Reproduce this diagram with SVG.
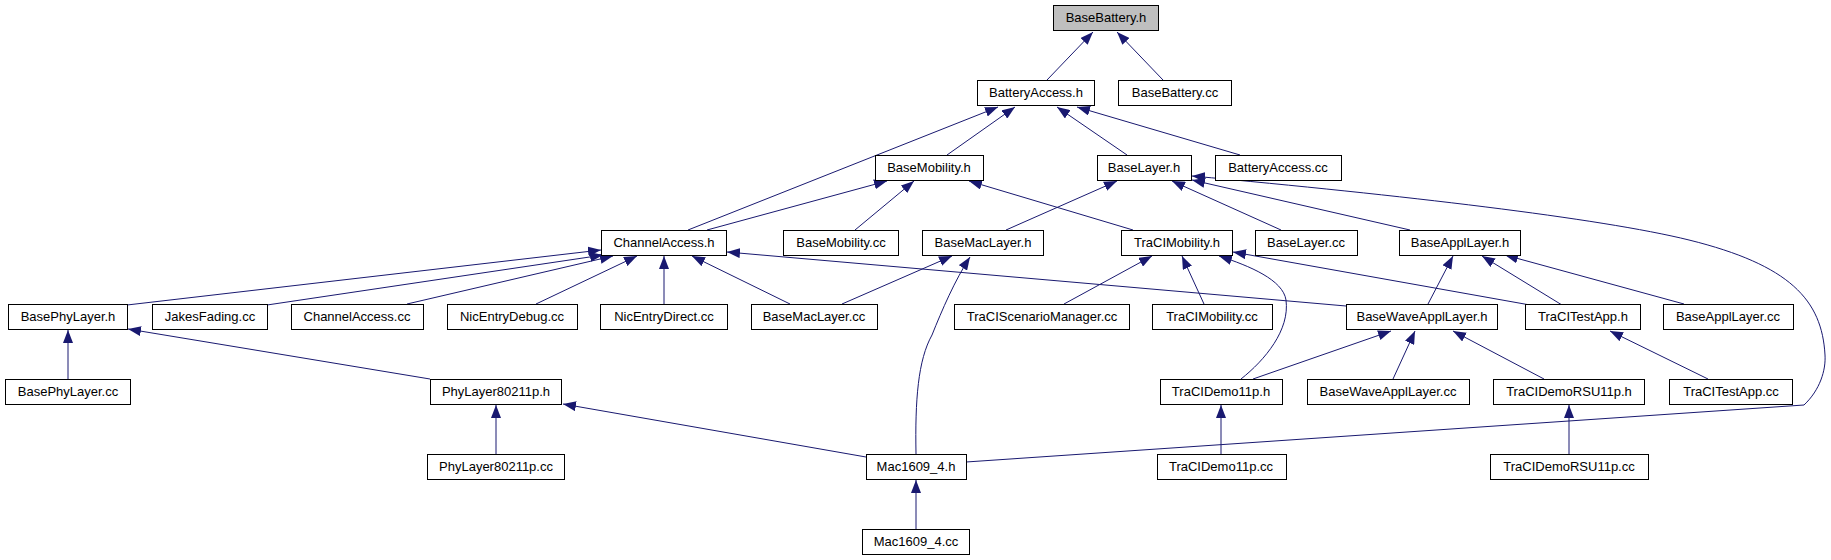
<svg xmlns="http://www.w3.org/2000/svg" width="1831" height="560" viewBox="0 0 1831 560">
<style>
.n rect{fill:#fff;stroke:#000;stroke-width:1}
.n text{font-family:"Liberation Sans",Arial,sans-serif;font-size:13px;text-anchor:middle;fill:#000}
#root rect{fill:#bfbfbf}
.e path{fill:none;stroke:#191970;stroke-width:1;marker-end:url(#a)}
</style>
<defs>
<marker id="a" markerUnits="userSpaceOnUse" markerWidth="14" markerHeight="10" refX="13" refY="5" orient="auto"><path d="M0,0 L13,5 L0,10 z" fill="#191970"/></marker>
</defs>
<rect width="1831" height="560" fill="#fff"/>
<g class="e" id="edges">
<path d="M1047,80 L1093,32"/>
<path d="M1163,80 L1117,32"/>
<path d="M688,230 L998,107"/>
<path d="M947,155 L1015,107"/>
<path d="M1127,155 L1057,107"/>
<path d="M1240,155 L1077,107"/>
<path d="M707,230 L887,181"/>
<path d="M855,230 L914,181"/>
<path d="M1133,230 L969,181"/>
<path d="M1006,230 L1117,181"/>
<path d="M1281,230 L1172,181"/>
<path d="M1410,230 L1192,180"/>
<path d="M966,462 L1804,405 C1820,390 1826,370 1825,355 C1822,300 1790,265 1689,240 C1600,218 1400,195 1192,176"/>
<path d="M127,305 L601,250"/>
<path d="M267,305 L603,255"/>
<path d="M407,304 L613,256"/>
<path d="M536,304 L637,256"/>
<path d="M664,304 L664,256"/>
<path d="M790,304 L692,256"/>
<path d="M1346,306 L727,252"/>
<path d="M842,304 L952,256"/>
<path d="M916,454 C915,400 918,360 932,335 C942,310 955,280 970,257"/>
<path d="M1064,304 L1152,256"/>
<path d="M1204,304 L1182,256"/>
<path d="M1241,379 C1265,360 1290,330 1286,300 C1283,280 1250,266 1219,256"/>
<path d="M1530,305 L1233,252"/>
<path d="M1428,304 L1453,256"/>
<path d="M1562,305 L1482,256"/>
<path d="M1684,304 L1505,255"/>
<path d="M68,379 L68,330"/>
<path d="M430,379 L128,329"/>
<path d="M1253,379 L1391,331"/>
<path d="M1393,379 L1415,331"/>
<path d="M1544,379 L1453,331"/>
<path d="M1708,379 L1610,331"/>
<path d="M496,454 L496,405"/>
<path d="M866,457 L563,404"/>
<path d="M1221,454 L1221,405"/>
<path d="M1569,454 L1569,405"/>
<path d="M916,529 L916,480"/>
</g>
<g class="n" id="root"><rect x="1053.5" y="5.5" width="105" height="25"/><text x="1106" y="22">BaseBattery.h</text></g>
<g class="n" id="n_batteryaccess_h"><rect x="977.5" y="80.5" width="117" height="25"/><text x="1036" y="97">BatteryAccess.h</text></g>
<g class="n" id="n_basebattery_cc"><rect x="1118.5" y="80.5" width="113" height="25"/><text x="1175" y="97">BaseBattery.cc</text></g>
<g class="n" id="n_basemobility_h"><rect x="875.5" y="155.5" width="108" height="25"/><text x="929" y="172">BaseMobility.h</text></g>
<g class="n" id="n_baselayer_h"><rect x="1097.5" y="155.5" width="94" height="25"/><text x="1144" y="172">BaseLayer.h</text></g>
<g class="n" id="n_batteryaccess_cc"><rect x="1215.5" y="155.5" width="126" height="25"/><text x="1278" y="172">BatteryAccess.cc</text></g>
<g class="n" id="n_channelaccess_h"><rect x="601.5" y="230.5" width="125" height="25"/><text x="664" y="247">ChannelAccess.h</text></g>
<g class="n" id="n_basemobility_cc"><rect x="783.5" y="230.5" width="115" height="25"/><text x="841" y="247">BaseMobility.cc</text></g>
<g class="n" id="n_basemaclayer_h"><rect x="922.5" y="230.5" width="121" height="25"/><text x="983" y="247">BaseMacLayer.h</text></g>
<g class="n" id="n_tracimobility_h"><rect x="1121.5" y="230.5" width="111" height="25"/><text x="1177" y="247">TraCIMobility.h</text></g>
<g class="n" id="n_baselayer_cc"><rect x="1255.5" y="230.5" width="102" height="25"/><text x="1306" y="247">BaseLayer.cc</text></g>
<g class="n" id="n_baseappllayer_h"><rect x="1399.5" y="230.5" width="121" height="25"/><text x="1460" y="247">BaseApplLayer.h</text></g>
<g class="n" id="n_basephylayer_h"><rect x="8.5" y="304.5" width="119" height="25"/><text x="68" y="321">BasePhyLayer.h</text></g>
<g class="n" id="n_jakesfading_cc"><rect x="152.5" y="304.5" width="115" height="25"/><text x="210" y="321">JakesFading.cc</text></g>
<g class="n" id="n_channelaccess_cc"><rect x="291.5" y="304.5" width="132" height="25"/><text x="357" y="321">ChannelAccess.cc</text></g>
<g class="n" id="n_nicentrydebug_cc"><rect x="447.5" y="304.5" width="130" height="25"/><text x="512" y="321">NicEntryDebug.cc</text></g>
<g class="n" id="n_nicentrydirect_cc"><rect x="600.5" y="304.5" width="127" height="25"/><text x="664" y="321">NicEntryDirect.cc</text></g>
<g class="n" id="n_basemaclayer_cc"><rect x="751.5" y="304.5" width="126" height="25"/><text x="814" y="321">BaseMacLayer.cc</text></g>
<g class="n" id="n_traciscenariomanager_cc"><rect x="954.5" y="304.5" width="175" height="25"/><text x="1042" y="321">TraCIScenarioManager.cc</text></g>
<g class="n" id="n_tracimobility_cc"><rect x="1152.5" y="304.5" width="120" height="25"/><text x="1212" y="321">TraCIMobility.cc</text></g>
<g class="n" id="n_basewaveappllayer_h"><rect x="1346.5" y="304.5" width="151" height="25"/><text x="1422" y="321">BaseWaveApplLayer.h</text></g>
<g class="n" id="n_tracitestapp_h"><rect x="1525.5" y="304.5" width="115" height="25"/><text x="1583" y="321">TraCITestApp.h</text></g>
<g class="n" id="n_baseappllayer_cc"><rect x="1663.5" y="304.5" width="130" height="25"/><text x="1728" y="321">BaseApplLayer.cc</text></g>
<g class="n" id="n_basephylayer_cc"><rect x="5.5" y="379.5" width="125" height="25"/><text x="68" y="396">BasePhyLayer.cc</text></g>
<g class="n" id="n_phylayer80211p_h"><rect x="430.5" y="379.5" width="131" height="25"/><text x="496" y="396">PhyLayer80211p.h</text></g>
<g class="n" id="n_tracidemo11p_h"><rect x="1160.5" y="379.5" width="122" height="25"/><text x="1221" y="396">TraCIDemo11p.h</text></g>
<g class="n" id="n_basewaveappllayer_cc"><rect x="1307.5" y="379.5" width="162" height="25"/><text x="1388" y="396">BaseWaveApplLayer.cc</text></g>
<g class="n" id="n_tracidemorsu11p_h"><rect x="1493.5" y="379.5" width="151" height="25"/><text x="1569" y="396">TraCIDemoRSU11p.h</text></g>
<g class="n" id="n_tracitestapp_cc"><rect x="1669.5" y="379.5" width="123" height="25"/><text x="1731" y="396">TraCITestApp.cc</text></g>
<g class="n" id="n_phylayer80211p_cc"><rect x="427.5" y="454.5" width="137" height="25"/><text x="496" y="471">PhyLayer80211p.cc</text></g>
<g class="n" id="n_mac1609_4_h"><rect x="866.5" y="454.5" width="100" height="25"/><text x="916" y="471">Mac1609_4.h</text></g>
<g class="n" id="n_tracidemo11p_cc"><rect x="1157.5" y="454.5" width="129" height="25"/><text x="1221" y="471">TraCIDemo11p.cc</text></g>
<g class="n" id="n_tracidemorsu11p_cc"><rect x="1490.5" y="454.5" width="158" height="25"/><text x="1569" y="471">TraCIDemoRSU11p.cc</text></g>
<g class="n" id="n_mac1609_4_cc"><rect x="862.5" y="529.5" width="107" height="25"/><text x="916" y="546">Mac1609_4.cc</text></g>
</svg>
